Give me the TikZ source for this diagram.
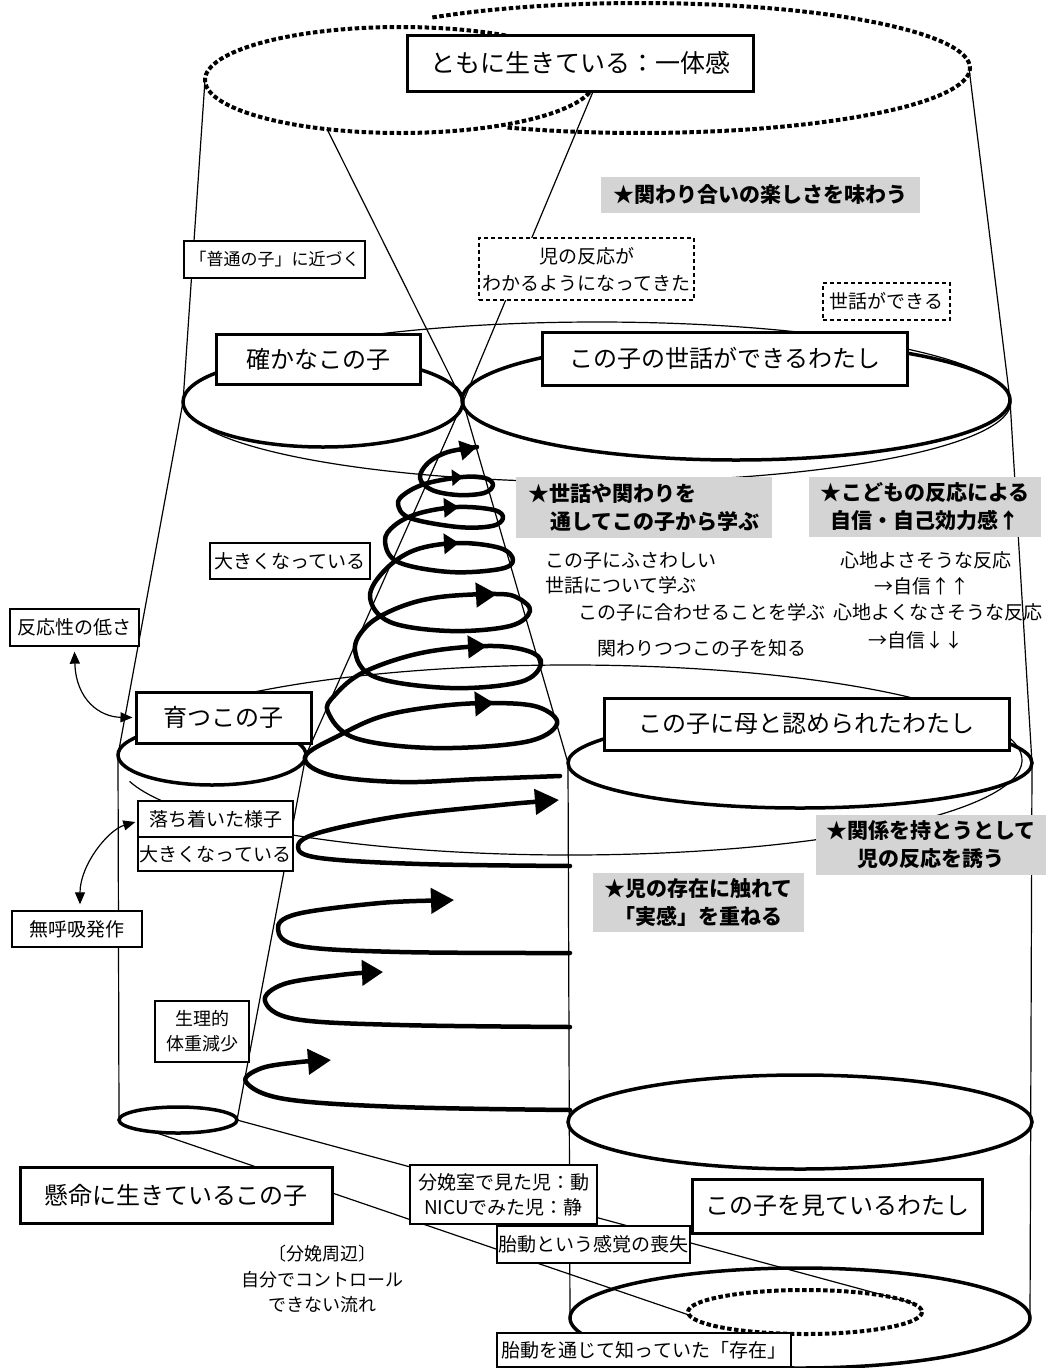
\documentclass[tikz,border=0pt]{standalone}
\usepackage{fontspec}
\setmainfont{Noto Sans CJK JP}
\usetikzlibrary{arrows.meta}
\begin{document}
\begin{tikzpicture}[x=1pt,y=-1pt,
  thinln/.style={line width=1.2pt},
  ellln/.style={line width=3.5pt},
  dellln/.style={line width=4pt, dash pattern=on 4.5pt off 2.5pt},
  helixln/.style={line width=4.5pt, line cap=round, line join=round},
  tbox/.style={draw, line width=1.3pt, fill=white, inner sep=0pt, align=center, font=\fontsize{19}{25}\selectfont},
  bbox/.style={draw, line width=3pt, fill=white, inner sep=0pt, font=\fontsize{24}{28}\selectfont},
  dbox/.style={draw, line width=1.2pt, dash pattern=on 4pt off 3pt, fill=white, inner sep=0pt, align=center, font=\fontsize{19}{27}\selectfont},
  gbox/.style={fill=black!17, inner sep=0pt, align=center, font=\bfseries\fontsize{21}{28}\selectfont},
  ptext/.style={inner sep=0pt, font=\fontsize{19}{25}\selectfont},
  smarrow/.style={thinln, {Triangle[length=12pt,width=10pt]}-{Triangle[length=12pt,width=10pt]}}
]
\useasboundingbox (0,0) rectangle (1051,1368);
\fill[white] (0,0) rectangle (1051,1368);

% key points
\coordinate (dL) at (205,80);
\coordinate (dLb) at (327,129);
\coordinate (dRb) at (600,75);
\coordinate (dR) at (969,68);
\coordinate (k2L) at (183,402);
\coordinate (apex) at (463,402);
\coordinate (s2R) at (1010,400);
\coordinate (k3L) at (118,755);
\coordinate (k3R) at (306,755);
\coordinate (m3L) at (568,763);
\coordinate (m3R) at (1032,763);
\coordinate (k4L) at (119,1120);
\coordinate (k4R) at (237,1120);
\coordinate (k4b) at (154,1132);
\coordinate (m5L) at (570,1318);
\coordinate (m5R) at (1030,1318);
\coordinate (inL) at (689,1315);
\coordinate (inR) at (916,1304);

% cylinder / cone sides
\draw[thinln] (dL) -- (k2L) -- (k3L) -- (k4L);
\draw[thinln] (dLb) -- (apex) -- (k3R) -- (k4R);
\draw[thinln] (dRb) -- (apex) -- (m3L) -- (m5L);
\draw[thinln] (dR) -- (s2R) -- (m3R) -- (m5R);
\draw[thinln] (k4b) -- (inL);
\draw[thinln] (k4R) -- (inR);

% large thin ellipses
\draw[thinln] (597,402) ++(225:414 and 80) arc[start angle=225, end angle=520, x radius=414, y radius=80];
\draw[thinln] (570,760) ++(215:452 and 95) arc[start angle=215, end angle=527, x radius=452, y radius=95];

% dashed top ellipses
\draw[dellln] (400,80) ellipse[x radius=195, y radius=53];
\draw[dellln] (640,68) ++(231:330 and 65) arc[start angle=231, end angle=474, x radius=330, y radius=65];

% thick ellipses
\draw[ellln] (323,402) ellipse[x radius=140, y radius=45];
\draw[ellln] (736,400) ellipse[x radius=274, y radius=60];
\draw[ellln] (212,755) ellipse[x radius=94, y radius=30];
\draw[ellln] (800,763) ellipse[x radius=232, y radius=45];
\draw[ellln] (178,1120) ellipse[x radius=59, y radius=13];
\draw[ellln] (800,1122) ellipse[x radius=232, y radius=47];
\draw[ellln] (800,1318) ellipse[x radius=230, y radius=50];
\draw[dellln] (805,1312) ellipse[x radius=117, y radius=22];

% helix (upper, continuous)
\draw[helixln] plot[smooth, tension=0.6] coordinates {
 (477,447) (448,452) (428,463) (420,478) (432,490) (458,495) (484,493) (493,485) (485,478)
 (463,477) (428,483) (406,493) (398,504) (410,518) (458,527) (492,526) (503,518) (494,510)
 (458,507) (420,513) (395,525) (385,541) (398,562) (450,572) (500,569) (513,560) (500,548)
 (458,543) (415,550) (385,570) (370,597) (390,622) (450,631) (510,626) (530,611) (518,598)
 (497,594) (440,597) (400,607) (368,625) (355,650) (375,677) (450,688) (520,682) (541,664) (528,651)
 (487,646) (421,653) (364,672) (335,695) (328,712) (355,738) (433,748) (525,742) (557,724) (538,707)
 (493,703) (440,706) (383,716) (340,735) (305,757) (330,775) (400,782) (480,779) (560,776)};
\draw[helixln, -{Triangle[length=17pt,width=19pt]}] (465,449.5) -- (477,447);
\draw[helixln, -{Triangle[length=11pt,width=16pt]}] (455,477.5) -- (463,477);
\draw[helixln, -{Triangle[length=15pt,width=19pt]}] (450,507.5) -- (459,507);
\draw[helixln, -{Triangle[length=15pt,width=20pt]}] (450,543.5) -- (459,543);
\draw[helixln, -{Triangle[length=21pt,width=24pt]}] (487,594.5) -- (497,594);
\draw[helixln, -{Triangle[length=19pt,width=22pt]}] (477,646.5) -- (487,646);
\draw[helixln, -{Triangle[length=19pt,width=24pt]}] (484,703.5) -- (494,703);

% helix (lower, open pieces)
\draw[helixln] plot[smooth, tension=0.6] coordinates {(570,866) (420,864) (320,858) (298,847) (318,833) (400,816) (500,805) (540,801.5)};
\draw[helixln, -{Triangle[length=24pt,width=25pt]}] (540,801.5) -- (559,800);
\draw[helixln] plot[smooth, tension=0.6] coordinates {(570,953) (400,952) (300,946) (278,929) (297,914) (380,903) (440,900.5)};
\draw[helixln, -{Triangle[length=23pt,width=25pt]}] (440,900.5) -- (454,900);
\draw[helixln] plot[smooth, tension=0.6] coordinates {(570,1027) (400,1025) (295,1019) (265,1001) (284,984) (340,975) (370,972.5)};
\draw[helixln, -{Triangle[length=21pt,width=25pt]}] (370,972.5) -- (383,972);
\draw[helixln] plot[smooth, tension=0.6] coordinates {(570,1110) (400,1107) (285,1099) (246,1082) (262,1068) (300,1062) (318,1061)};
\draw[helixln, -{Triangle[length=23pt,width=25pt]}] (318,1061) -- (331,1060);

% boxes
\node[bbox, minimum width=346pt, minimum height=56pt, font=\fontsize{25}{30}\selectfont] (top) at (580,63) {ともに生きている：一体感};
\node[gbox, minimum width=319pt, minimum height=36pt] (tano) at (760.5,195) {★関わり合いの楽しさを味わう};
\node[tbox, minimum width=181pt, minimum height=37pt, font=\fontsize{17}{20}\selectfont] (futsu) at (274.5,259.5) {「普通の子」に近づく};
\node[dbox, minimum width=215pt, minimum height=62pt] (hanno2) at (586.5,269) {児の反応が\\わかるようになってきた};
\node[dbox, minimum width=127pt, minimum height=37pt] (sewa2) at (886.5,301.5) {世話ができる};
\node[bbox, minimum width=204pt, minimum height=50pt] (tashika) at (318,359) {確かなこの子};
\node[bbox, minimum width=365pt, minimum height=53pt] (sewa) at (725,358.5) {この子の世話ができるわたし};
\node[gbox, minimum width=256pt, minimum height=61pt, align=left] (manabu) at (644,507.5) {★世話や関わりを\\\hspace*{22pt}通してこの子から学ぶ};
\node[gbox, minimum width=232pt, minimum height=60pt] (jishin) at (925,507) {★こどもの反応による\\自信・自己効力感↑};
\node[ptext, anchor=west, align=left] (fusawashii) at (545,573) {この子にふさわしい\\世話について学ぶ};
\node[ptext, anchor=west] (awaseru) at (578,612) {この子に合わせることを学ぶ};
\node[ptext, anchor=west] (shiru) at (597,648) {関わりつつこの子を知る};
\node[ptext] (kokochi1) at (926,560) {心地よさそうな反応};
\node[ptext] (jishin1) at (922,586) {→自信↑↑};
\node[ptext] (kokochi2) at (938,612) {心地よくなさそうな反応};
\node[ptext] (jishin2) at (916,640) {→自信↓↓};
\node[tbox, minimum width=160pt, minimum height=36pt] (ookiku1) at (290,561) {大きくなっている};
\node[tbox, minimum width=129pt, minimum height=37pt] (hanno) at (74.5,627.5) {反応性の低さ};
\node[bbox, minimum width=175pt, minimum height=51pt] (sodatsu) at (223.5,717.5) {育つこの子};
\node[bbox, minimum width=405pt, minimum height=52pt] (mitome) at (806.5,724) {この子に母と認められたわたし};
\node[tbox, minimum width=155pt, minimum height=36pt] (ochi) at (215.5,819) {落ち着いた様子};
\node[tbox, minimum width=155pt, minimum height=34pt] (ookiku2) at (215.5,854) {大きくなっている};
\node[gbox, minimum width=230pt, minimum height=60pt] (kankei) at (931,845) {★関係を持とうとして\\児の反応を誘う};
\node[tbox, minimum width=130pt, minimum height=36pt] (mukokyu) at (77,929) {無呼吸発作};
\node[gbox, minimum width=211pt, minimum height=59pt] (jikkan) at (698.5,902.5) {★児の存在に触れて\\「実感」を重ねる};
\node[tbox, minimum width=94pt, minimum height=61pt, font=\fontsize{18}{25}\selectfont] (seiri) at (202,1031.5) {生理的\\体重減少};
\node[bbox, minimum width=312pt, minimum height=56pt] (kenmei) at (176,1195) {懸命に生きているこの子};
\node[tbox, minimum width=187pt, minimum height=59pt] (bunben) at (503.5,1194.5) {分娩室で見た児：動\\NICUでみた児：静};
\node[bbox, minimum width=290pt, minimum height=54pt] (miteiru) at (837,1206) {この子を見ているわたし};
\node[tbox, minimum width=193pt, minimum height=37pt] (soshitsu) at (593.5,1244.5) {胎動という感覚の喪失};
\node[ptext, align=center, font=\fontsize{18}{25.5}\selectfont] (nagare) at (322,1279) {〔分娩周辺〕\\自分でコントロール\\できない流れ};
\node[tbox, minimum width=294pt, minimum height=34pt] (sonzai) at (644,1350) {胎動を通じて知っていた「存在」};

% curved double arrows
\draw[smarrow] ([yshift=-5pt]hanno.south) .. controls (76,700) and (100,717) .. ([xshift=-2pt]sodatsu.west);
\draw[smarrow] ([shift={(-2pt,-3pt)}]ochi.west) .. controls (108,830) and (80,865) .. ([shift={(3pt,6pt)}]mukokyu.north);
\end{tikzpicture}
\end{document}
